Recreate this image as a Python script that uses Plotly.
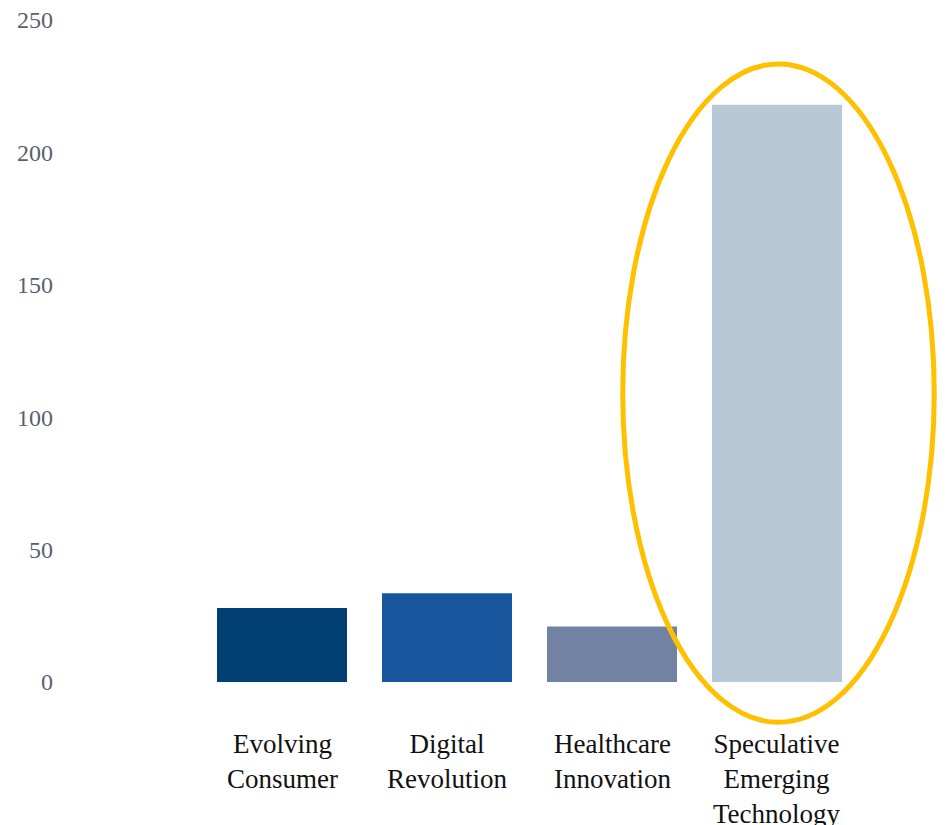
import plotly.graph_objects as go

# Bar data
categories = ["Evolving Consumer", "Digital Revolution", "Healthcare Innovation",
              "Speculative Emerging Technology"]
label_text = ["Evolving<br>Consumer", "Digital<br>Revolution", "Healthcare<br>Innovation",
              "Speculative<br>Emerging<br>Technology"]
values = [28, 33.5, 21, 218]
bar_colors = ["#023F73", "#17569C", "#7282A3", "#B7C9D7"]
y_ticks = [0, 50, 100, 150, 200, 250]

FONT = "Liberation Serif"

fig = go.Figure(
    go.Bar(
        x=categories,
        y=values,
        marker=dict(color=bar_colors, line=dict(width=0)),
        showlegend=False,
        hoverinfo="skip",
    )
)

# Category labels beneath the bars
for cat, txt in zip(categories, label_text):
    fig.add_annotation(
        x=cat, y=-17.0, xref="x", yref="y",
        text=txt, showarrow=False,
        xanchor="center", yanchor="top", align="center",
        font=dict(family=FONT, size=27, color="#111111"),
    )

# Highlight ring around the last bar
fig.add_shape(
    type="circle", xref="x", yref="y",
    x0=2.065, x1=3.953, y0=-15.2, y1=233.4,
    line=dict(color="#FFC000", width=5),
    fillcolor="rgba(0,0,0,0)",
    layer="above",
)

fig.update_layout(
    width=946, height=825,
    margin=dict(l=54, r=0, t=20, b=90),
    paper_bgcolor="white", plot_bgcolor="white",
    bargap=0.212,
    xaxis=dict(
        type="category",
        range=[-1.3818, 4.0242],
        showticklabels=False, showgrid=False, zeroline=False,
        showline=False, ticks="",
    ),
    yaxis=dict(
        range=[-20, 250],
        tickvals=y_ticks,
        tickfont=dict(family=FONT, size=24, color="#5A6070"),
        showgrid=False, zeroline=False, showline=False, ticks="",
    ),
)

fig.write_html("out.html")
